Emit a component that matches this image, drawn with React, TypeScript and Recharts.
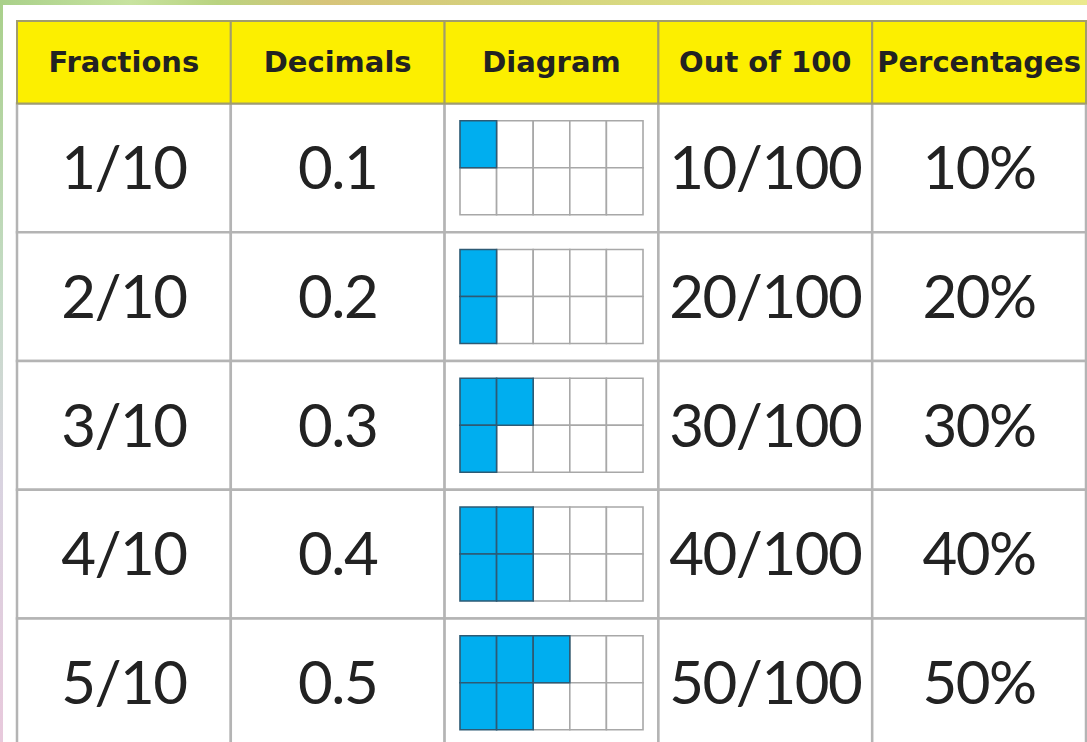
import { ComposedChart, XAxis, YAxis, ReferenceArea } from 'recharts';

const headers = ['Fractions', 'Decimals', 'Diagram', 'Out of 100', 'Percentages'];
const fractions = ['1/10', '2/10', '3/10', '4/10', '5/10'];
const decimals = ['0.1', '0.2', '0.3', '0.4', '0.5'];
const outOf100 = ['10/100', '20/100', '30/100', '40/100', '50/100'];
const percentages = ['10%', '20%', '30%', '40%', '50%'];
const shadedTenths = [1, 2, 3, 4, 5];

// layout in axis units: one column = 1 on x, one body row = 1 on y
const HEAD = 0.64;
const Y_MAX = 5.6;
const BOX_X0 = 0.072;
const BOX_W = 0.856;
const BOX_Y0 = 0.135;
const BOX_H = 0.73;

const YELLOW = '#fcef00';
const BLUE = '#00aeef';
const GRID = '#b4b4b4';

const bodyFont = { fill: '#222', fontSize: 60, fontFamily: 'Lato', letterSpacing: -1.5 };
const headFont = { fill: '#222', fontSize: 29, fontFamily: 'DejaVu Sans', fontWeight: 'bold' };

export default function App() {
  const columns = [fractions, decimals, null, outOf100, percentages];

  const headerCells = headers.map((h, c) => (
    <ReferenceArea
      key={`h-${c}`}
      x1={c}
      x2={c + 1}
      y1={0}
      y2={HEAD}
      fill={YELLOW}
      fillOpacity={1}
      stroke="#a19d6c"
      strokeWidth={2}
      ifOverflow="visible"
      label={{ value: h, position: 'center', ...headFont }}
    />
  ));

  const bodyCells: any[] = [];
  columns.forEach((col, c) => {
    fractions.forEach((_, r) => {
      const text = col ? col[r] : undefined;
      bodyCells.push(
        <ReferenceArea
          key={`b-${c}-${r}`}
          x1={c}
          x2={c + 1}
          y1={HEAD + r}
          y2={HEAD + r + 1}
          fill="#fff"
          fillOpacity={1}
          stroke={GRID}
          strokeWidth={2.5}
          ifOverflow="visible"
          label={text ? { value: text, position: 'center', ...bodyFont } : undefined}
        />
      );
    });
  });

  // 2 x 5 grid of tenths, filled column by column (top then bottom)
  const emptySquares: any[] = [];
  const blueSquares: any[] = [];
  shadedTenths.forEach((n, r) => {
    const cw = BOX_W / 5;
    const ch = BOX_H / 2;
    for (let k = 0; k < 10; k++) {
      const gx = Math.floor(k / 2);
      const gy = k % 2;
      const x1 = 2 + BOX_X0 + gx * cw;
      const y1 = HEAD + r + BOX_Y0 + gy * ch;
      const filled = k < n;
      const el = (
        <ReferenceArea
          key={`d-${r}-${k}`}
          x1={x1}
          x2={x1 + cw}
          y1={y1}
          y2={y1 + ch}
          fill={filled ? BLUE : '#fff'}
          fillOpacity={1}
          stroke={filled ? '#2d5a74' : '#a8a8a8'}
          strokeWidth={1.6}
          ifOverflow="visible"
        />
      );
      (filled ? blueSquares : emptySquares).push(el);
    }
  });

  return (
    <div
      style={{
        position: 'absolute',
        left: 0,
        top: 0,
        width: 1087,
        height: 742,
        overflow: 'hidden',
        background: 'linear-gradient(180deg, #a9d08a 0%, #c6dcc8 40%, #d9d3e0 65%, #e8c9dc 100%)',
      }}
    >
      <div
        style={{
          position: 'absolute',
          left: 0,
          top: 0,
          width: 1087,
          height: 5,
          background:
            'linear-gradient(90deg, #a9d08a 0%, #c8e3a0 12%, #b9d380 20%, #d7c47a 30%, #d4d47e 50%, #e1e387 75%, #ebe98e 100%)',
        }}
      />
      <div style={{ position: 'absolute', left: 3, top: 5, width: 1084, height: 737, background: '#fff' }} />
      <div style={{ position: 'absolute', left: 0, top: 0 }}>
        <ComposedChart
          width={1087}
          height={742}
          data={fractions.map((f, i) => ({ name: f, i }))}
          margin={{ top: 21, right: 1, left: 17, bottom: 0 }}
        >
          <XAxis type="number" dataKey="i" domain={[0, 5]} hide allowDataOverflow />
          <YAxis type="number" domain={[0, Y_MAX]} reversed hide allowDataOverflow />
          {bodyCells}
          {headerCells}
          {emptySquares}
          {blueSquares}
        </ComposedChart>
      </div>
    </div>
  );
}
